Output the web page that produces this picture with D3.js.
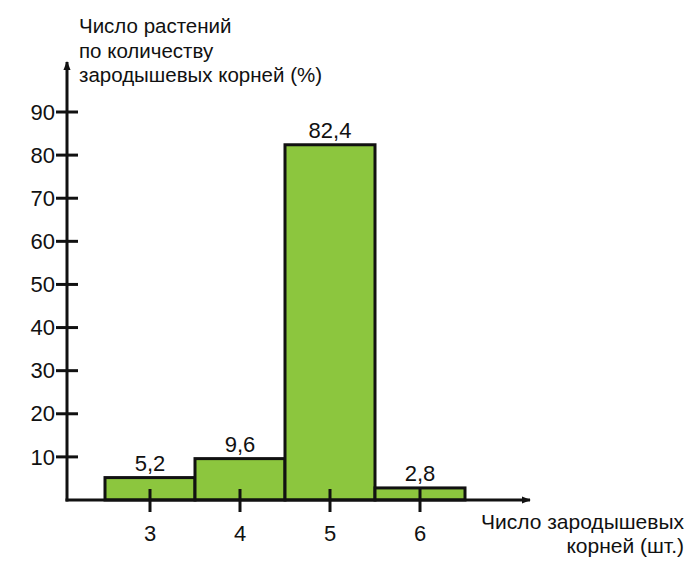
<!DOCTYPE html>
<html><head><meta charset="utf-8">
<script src="https://cdn.jsdelivr.net/npm/d3@7"></script>
<style>body{margin:0;background:#fff}text{font-family:Arial,"Liberation Sans",sans-serif;fill:#111}</style>
</head><body><svg id="c" width="700" height="567"></svg>
<script>
const categories = ["3", "4", "5", "6"];
const values = [5.2, 9.6, 82.4, 2.8];
const valueLabels = ["5,2", "9,6", "82,4", "2,8"];
const yTicks = [10, 20, 30, 40, 50, 60, 70, 80, 90];

const svg = d3.select("#c");
const x0 = 67, yBase = 500;
const x = d3.scaleBand().domain(categories).range([105, 465]).padding(0);
const y = d3.scaleLinear().domain([0, 90]).range([yBase, 112]);

svg.append("defs").append("marker").attr("id", "arr")
  .attr("viewBox", "0 0 10 10").attr("refX", 9).attr("refY", 5)
  .attr("markerWidth", 9).attr("markerHeight", 9).attr("orient", "auto")
  .attr("markerUnits", "userSpaceOnUse")
  .append("path").attr("d", "M0,1 L10,5 L0,9 Z").attr("fill", "#111");

// bars
svg.append("g").selectAll("rect").data(values).enter().append("rect")
  .attr("x", (d, i) => x(categories[i]))
  .attr("width", x.bandwidth())
  .attr("y", d => y(d))
  .attr("height", d => yBase - y(d))
  .attr("fill", "#8cc63e").attr("stroke", "#111").attr("stroke-width", 3);

svg.append("g").selectAll("text").data(values).enter().append("text")
  .attr("x", (d, i) => x(categories[i]) + x.bandwidth() / 2)
  .attr("y", d => y(d) - 7)
  .attr("text-anchor", "middle").attr("font-size", 22)
  .text((d, i) => valueLabels[i]);

svg.append("line").attr("x1", x0).attr("y1", yBase + 1.5).attr("x2", x0).attr("y2", 62)
  .attr("stroke", "#111").attr("stroke-width", 3).attr("marker-end", "url(#arr)");
svg.append("line").attr("x1", x0 - 1.5).attr("y1", yBase).attr("x2", 530).attr("y2", yBase)
  .attr("stroke", "#111").attr("stroke-width", 3).attr("marker-end", "url(#arr)");

// y ticks
const yg = svg.append("g").selectAll("g").data(yTicks).enter().append("g")
  .attr("transform", d => `translate(0,${y(d)})`);
yg.append("line").attr("x1", x0 - 11).attr("x2", x0 + 11).attr("stroke", "#111").attr("stroke-width", 3);
yg.append("text").attr("x", x0 - 12).attr("dy", "0.35em").attr("text-anchor", "end")
  .attr("font-size", 22).text(d => d);

// x ticks
const xg = svg.append("g").selectAll("g").data(categories).enter().append("g")
  .attr("transform", d => `translate(${x(d) + x.bandwidth() / 2},0)`);
xg.append("line").attr("y1", yBase - 11).attr("y2", yBase + 12).attr("stroke", "#111").attr("stroke-width", 3);
xg.append("text").attr("y", 541).attr("text-anchor", "middle").attr("font-size", 22).text(d => d);

// titles
const yt = svg.append("text").attr("font-size", 20.5);
["Число растений", "по количеству", "зародышевых корней (%)"].forEach((t, i) =>
  yt.append("tspan").attr("x", 79).attr("y", 33 + i * 24.5).text(t));
const xt = svg.append("text").attr("text-anchor", "end").attr("font-size", 21);
["Число зародышевых", "корней (шт.)"].forEach((t, i) =>
  xt.append("tspan").attr("x", 684).attr("y", 529 + i * 24).text(t));
</script></body></html>
